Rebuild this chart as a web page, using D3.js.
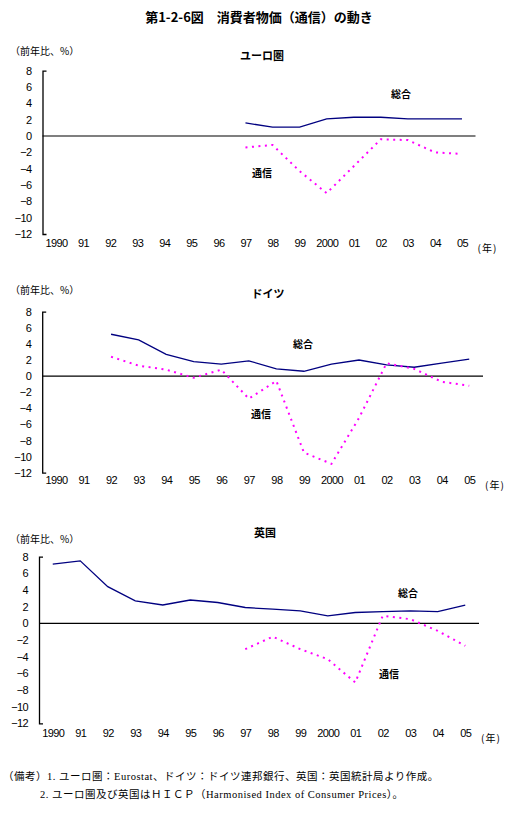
<!DOCTYPE html>
<html>
<head>
<meta charset="utf-8">
<script src="https://cdn.jsdelivr.net/npm/d3@7"></script>
<style>
body { margin: 0; background: #fff; }
svg { display: block; }
text { fill: #000; }
.jp { font-family: "Noto Sans CJK JP", sans-serif; }
.tick text { font-family: "Liberation Sans", Arial, sans-serif; font-size: 11px; letter-spacing: -0.6px; }
</style>
</head>
<body>
<svg width="510" height="815"></svg>
<script>
var years = ["1990", "91", "92", "93", "94", "95", "96", "97", "98", "99", "2000", "01", "02", "03", "04", "05"];
var yTicks = [8, 6, 4, 2, 0, -2, -4, -6, -8, -10, -12];

// ユーロ圏
var euroTotal = [null, null, null, null, null, null, null, 1.6, 1.1, 1.1, 2.1, 2.3, 2.3, 2.1, 2.1, 2.1];
var euroComm  = [null, null, null, null, null, null, null, -1.4, -1.1, -4.3, -7.0, -3.7, -0.4, -0.5, -2.0, -2.2];
// ドイツ
var deTotal = [null, null, 5.2, 4.5, 2.7, 1.8, 1.5, 1.9, 0.9, 0.6, 1.5, 2.0, 1.4, 1.1, 1.6, 2.1];
var deComm  = [null, null, 2.4, 1.3, 0.8, -0.2, 0.8, -2.8, -0.6, -9.5, -10.9, -5.2, 1.6, 0.9, -0.7, -1.2];
// 英国
var ukTotal = [7.1, 7.5, 4.4, 2.7, 2.2, 2.8, 2.5, 1.9, 1.7, 1.5, 0.9, 1.3, 1.4, 1.5, 1.4, 2.2];
var ukComm  = [null, null, null, null, null, null, null, -3.1, -1.6, -3.1, -4.3, -7.1, 0.9, 0.5, -0.9, -2.7];

var svg = d3.select("svg");

svg.append("text").attr("class", "jp")
    .attr("x", 259).attr("y", 22).attr("text-anchor", "middle")
    .style("font-size", "13px").style("font-weight", "bold")
    .text("第1-2-6図　消費者物価（通信）の動き");

var panels = [
    { name: "ユーロ圏", total: euroTotal, comm: euroComm,
      left: 42.5, right: 475.5, top: 70.7, bottom: 234, labelY: 248,
      unitY: 55, titleX: 262, titleY: 60,
      totalLbl: [401, 98], commLbl: [262, 177] },
    { name: "ドイツ", total: deTotal, comm: deComm,
      left: 42.2, right: 483, top: 311.7, bottom: 472.7, labelY: 485,
      unitY: 294, titleX: 268, titleY: 298,
      totalLbl: [303, 348], commLbl: [261, 418] },
    { name: "英国", total: ukTotal, comm: ukComm,
      left: 39, right: 479, top: 556.7, bottom: 723.3, labelY: 738,
      unitY: 543, titleX: 265, titleY: 537,
      totalLbl: [408, 597], commLbl: [389, 678] }
];

panels.forEach(function (p) {
    var x = d3.scalePoint().domain(years).range([p.left, p.right]).padding(0.5);
    var y = d3.scaleLinear().domain([-12, 8]).range([p.bottom, p.top]);
    var g = svg.append("g");

    g.append("text").attr("class", "jp")
        .attr("x", 10).attr("y", p.unitY)
        .style("font-size", "10px")
        .text("（前年比、%）");

    g.append("text").attr("class", "jp")
        .attr("x", p.titleX).attr("y", p.titleY).attr("text-anchor", "middle")
        .style("font-size", "11px").style("font-weight", "bold")
        .text(p.name);

    var yAxis = g.append("g")
        .attr("transform", "translate(" + p.left + ",0)")
        .call(d3.axisLeft(y).tickValues(yTicks).tickFormat(d => d < 0 ? "\u2212" + Math.abs(d) : d)
            .tickSizeInner(0).tickSizeOuter(-4).tickPadding(11));
    yAxis.select(".domain").attr("stroke", "#000").attr("stroke-width", 1.3);

    var xAxis = g.append("g")
        .attr("transform", "translate(0," + (p.labelY - 9) + ")")
        .call(d3.axisBottom(x).tickSize(0).tickPadding(0));
    xAxis.select(".domain").remove();
    xAxis.selectAll(".tick text").attr("dy", "0.71em");

    g.append("text").attr("class", "jp")
        .attr("x", p.right + 2).attr("y", p.labelY + 4)
        .style("font-size", "10px").style("letter-spacing", "1px")
        .text("(年)");

    g.append("line")
        .attr("x1", p.left).attr("x2", p.right)
        .attr("y1", y(0)).attr("y2", y(0))
        .attr("stroke", "#000").attr("stroke-width", 1.2);

    var line = d3.line()
        .defined(d => d[1] != null)
        .x(d => x(d[0])).y(d => y(d[1]));

    g.append("path")
        .datum(years.map((yr, i) => [yr, p.total[i]]))
        .attr("d", line)
        .attr("fill", "none").attr("stroke", "#000080").attr("stroke-width", 1.3);

    g.append("path")
        .datum(years.map((yr, i) => [yr, p.comm[i]]))
        .attr("d", line)
        .attr("fill", "none").attr("stroke", "#ff00ff").attr("stroke-width", 2)
        .attr("stroke-dasharray", "2,4.5");

    g.append("text").attr("class", "jp")
        .attr("x", p.totalLbl[0]).attr("y", p.totalLbl[1]).attr("text-anchor", "middle")
        .style("font-size", "10px").style("font-weight", "bold")
        .text("総合");
    g.append("text").attr("class", "jp")
        .attr("x", p.commLbl[0]).attr("y", p.commLbl[1]).attr("text-anchor", "middle")
        .style("font-size", "10px").style("font-weight", "bold")
        .text("通信");
});

var notes = svg.append("g")
    .style("font-family", "\"Liberation Serif\", \"Noto Sans CJK JP\", serif")
    .style("font-size", "10.5px").style("letter-spacing", "0.5px");
notes.append("text").attr("x", 3).attr("y", 780)
    .text("（備考）1.  ユーロ圏：Eurostat、ドイツ：ドイツ連邦銀行、英国：英国統計局より作成。");
notes.append("text").attr("x", 40).attr("y", 798)
    .text("2.  ユーロ圏及び英国はＨＩＣＰ（Harmonised Index of Consumer Prices）。");
</script>
</body>
</html>
